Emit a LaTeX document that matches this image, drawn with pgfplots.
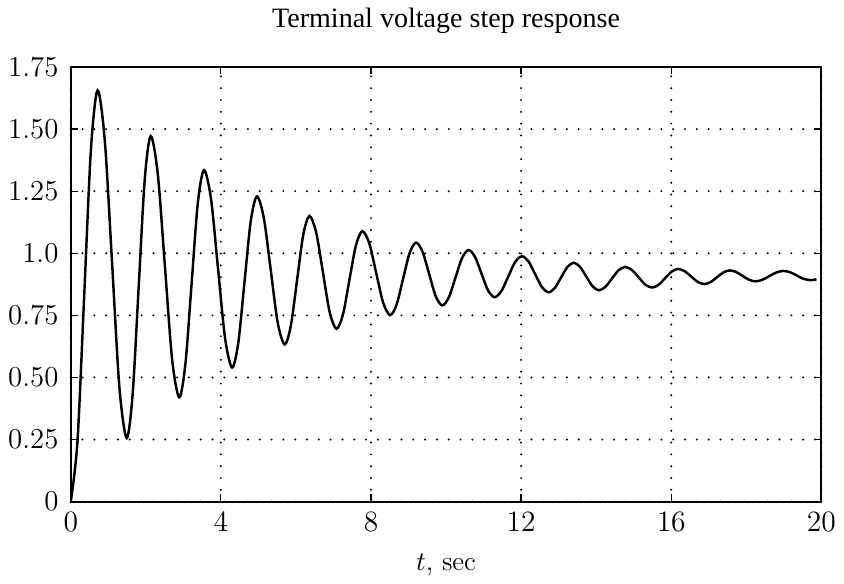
\documentclass[border=0pt]{standalone}
\usepackage{fontspec}
\newfontfamily\titlefont{Liberation Serif}
\usepackage{pgfplots}
\pgfplotsset{compat=1.18}

\begin{document}
\begin{tikzpicture}
\begin{axis}[
    scale only axis,
    width=305pt,
    height=176.6pt,
    xmin=0, xmax=20,
    ymin=0, ymax=1.75,
    xtick={0,4,8,12,16,20},
    ytick={0,0.25,0.5,0.75,1.0,1.25,1.5,1.75},
    yticklabels={0,0.25,0.50,0.75,1.0,1.25,1.50,1.75},
    tick align=inside,
    major tick length=3pt,
    tick style={black, line width=0.5pt},
    axis line style={line width=0.9pt},
    tick label style={font=\fontsize{11.7}{14}\selectfont},
    xticklabel style={yshift=-1pt},
    yticklabel style={xshift=-1.5pt},
    grid=major,
    grid style={black, line width=0.9pt, dash pattern=on 0pt off 4.8pt, line cap=round},
    title={Terminal voltage step response},
    title style={font=\titlefont\fontsize{11.4}{13}\selectfont, yshift=4pt},
    xlabel={$t$, sec},
    xlabel style={font=\fontsize{11}{13}\selectfont, yshift=-2pt},
]
\addplot[black, line width=1pt, smooth] coordinates {
(0,0) (0.179,0.2426) (0.358,0.828) (0.536,1.4134)
(0.715,1.656) (0.909,1.4509) (1.103,0.956) (1.296,0.4611)
(1.49,0.256) (1.65,0.4341) (1.81,0.864) (1.97,1.2939)
(2.13,1.472) (2.32,1.3179) (2.51,0.946) (2.70,0.5741)
(2.89,0.42) (3.055,0.5541) (3.22,0.8775) (3.385,1.2009)
(3.55,1.335) (3.738,1.2185) (3.925,0.9375) (4.113,0.6565)
(4.30,0.54) (4.465,0.6409) (4.63,0.8845) (4.795,1.1281)
(4.96,1.229) (5.145,1.1417) (5.33,0.931) (5.515,0.7203)
(5.70,0.633) (5.865,0.7088) (6.03,0.8915) (6.195,1.0742)
(6.36,1.15) (6.54,1.0835) (6.72,0.923) (6.90,0.7625)
(7.08,0.696) (7.253,0.7535) (7.425,0.8925) (7.598,1.0315)
(7.77,1.089) (7.955,1.0395) (8.14,0.92) (8.325,0.8005)
(8.51,0.751) (8.683,0.7938) (8.855,0.897) (9.028,1.0002)
(9.2,1.043) (9.375,1.0059) (9.55,0.9165) (9.725,0.8271)
(9.9,0.79) (10.075,0.8227) (10.25,0.9015) (10.425,0.9803)
(10.6,1.013) (10.773,0.9852) (10.945,0.918) (11.118,0.8508)
(11.29,0.823) (11.473,0.8471) (11.655,0.9055) (11.838,0.9639)
(12.02,0.988) (12.198,0.9668) (12.375,0.9155) (12.553,0.8642)
(12.73,0.843) (12.898,0.8604) (13.065,0.9025) (13.233,0.9446)
(13.40,0.962) (13.568,0.9458) (13.735,0.9065) (13.903,0.8672)
(14.07,0.851) (14.245,0.8647) (14.42,0.898) (14.595,0.9313)
(14.77,0.945) (14.95,0.9329) (15.13,0.9035) (15.31,0.8741)
(15.49,0.862) (15.663,0.873) (15.835,0.8995) (16.008,0.926)
(16.18,0.937) (16.355,0.928) (16.53,0.9065) (16.705,0.885)
(16.88,0.876) (17.05,0.8841) (17.22,0.9035) (17.39,0.9229)
(17.56,0.931) (17.73,0.9246) (17.90,0.909) (18.07,0.8935)
(18.24,0.887) (18.428,0.8932) (18.615,0.908) (18.803,0.9229)
(18.99,0.929) (19.168,0.9236) (19.345,0.9105) (19.523,0.8974)
(19.70,0.892) (19.87,0.895)
};
\end{axis}
\end{tikzpicture}
\end{document}
